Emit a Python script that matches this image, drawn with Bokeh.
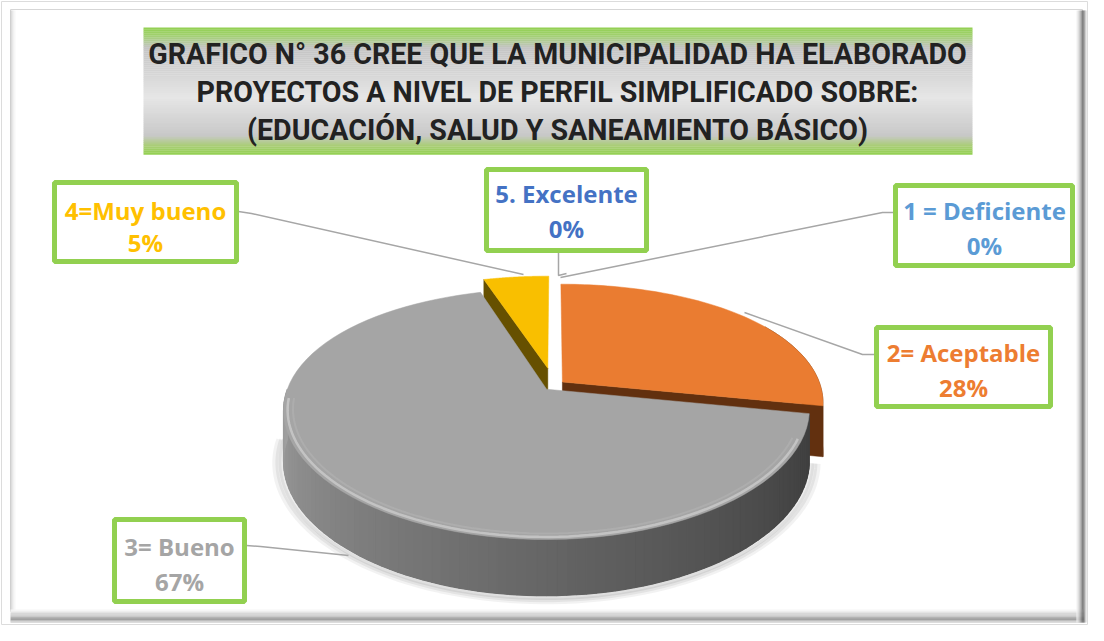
import math
from bokeh.plotting import figure
from bokeh.models import Range1d
from bokeh.core.properties import value
from bokeh.embed import file_html
from bokeh.resources import INLINE

# ---------------- data ----------------
categories = ["1 = Deficiente", "2= Aceptable", "3= Bueno", "4=Muy bueno", "5. Excelente"]
percents = [0, 28, 67, 5, 0]
slice_colors = ["#5b9bd5", "#ea7c31", "#a5a5a5", "#f9bf00", "#4472c4"]
face_colors = ["#2e5b85", "#62300f", "#6e6e6e", "#665000", "#22406f"]
label_colors = ["#5b9bd5", "#ed7d31", "#a5a5a5", "#ffc000", "#4472c4"]
explode = [0.0, 0.045, 0.04, 0.145, 0.0]
title_lines = [
    "GRAFICO N° 36 CREE QUE LA MUNICIPALIDAD HA ELABORADO",
    "PROYECTOS A NIVEL DE PERFIL SIMPLIFICADO SOBRE:",
    "(EDUCACIÓN, SALUD Y SANEAMIENTO BÁSICO)",
]

# ---------------- layout ----------------
W, H = 1088, 625
p = figure(width=W, height=H, x_range=Range1d(0, W), y_range=Range1d(H, 0),
           output_backend="svg", toolbar_location=None, min_border=0,
           x_axis_location=None, y_axis_location=None)
p.grid.visible = False
p.outline_line_color = None
p.background_fill_color = "white"
p.border_fill_color = "white"

# outer frame
p.quad(left=[1], right=[1087], top=[1], bottom=[624], fill_color=None,
       line_color="#dcdcdc", line_width=1)
p.quad(left=[10], right=[1082], top=[9], bottom=[611], fill_color="white",
       line_color="#d6d6d6", line_width=1)
left_band = ["#c8c8c8", "#d8d8d8", "#e6e6e6", "#f0f0f0", "#f8f8f8"]
for i, c in enumerate(left_band):
    p.quad(left=[10 + i], right=[11 + i], top=[10], bottom=[610], fill_color=c, line_color=None)
bottom_band = ["#f6f6f6", "#eeeeee", "#e4e4e4", "#d8d8d8", "#cccccc", "#bfbfbf",
               "#b3b3b3", "#a8a8a8", "#a0a0a0", "#b0b0b0", "#d0d0d0"]
for i, c in enumerate(bottom_band):
    p.quad(left=[10], right=[1084], top=[609 + i * 1.2], bottom=[610.2 + i * 1.2],
           fill_color=c, line_color=None)
right_band = ["#f2f2f2", "#e2e2e2", "#cfcfcf", "#b5b5b5", "#959595", "#777777",
              "#5f5f5f", "#6f6f6f", "#9a9a9a", "#d0d0d0"]
for i, c in enumerate(right_band):
    p.quad(left=[1076 + i], right=[1077 + i], top=[10], bottom=[622], fill_color=c, line_color=None)

# title box with gradient bands
TL, TR, TT, TB = 143, 972, 27, 154
stops = [(0.0, (146, 208, 80)), (0.06, (160, 208, 110)), (0.16, (196, 196, 196)),
         (0.55, (230, 230, 230)), (0.85, (200, 200, 200)), (0.93, (170, 205, 120)),
         (1.0, (146, 208, 80))]


def grad(t):
    for (t0, c0), (t1, c1) in zip(stops[:-1], stops[1:]):
        if t0 <= t <= t1:
            f = (t - t0) / (t1 - t0) if t1 > t0 else 0
            return "#%02x%02x%02x" % tuple(int(round(a + (b - a) * f)) for a, b in zip(c0, c1))
    return "#92d050"


nb = 64
bh = (TB - TT) / nb
p.quad(left=[TL] * nb, right=[TR] * nb,
       top=[TT + i * bh for i in range(nb)], bottom=[TT + (i + 1) * bh + 0.3 for i in range(nb)],
       fill_color=[grad((i + 0.5) / nb) for i in range(nb)], line_color=None)
p.text(x=[557] * 3, y=[53, 91, 129], text=title_lines, text_align="center",
       text_baseline="middle", text_font=value("Roboto"),
       text_font_style="bold", text_font_size=value("28.6px"), text_color="#222222")

# ---------------- 3D pie ----------------
CX, CY, RX, RY, K, KX = 553, 385, 258, 124, 0.2, 0.17
DEPTH, KD = 50, 0.12


def pt(theta, r, off, down=False):
    t = math.radians(theta)
    u = r * math.sin(t) + off[0]
    w = -r * math.cos(t) + off[1]
    x = CX + RX * u * (1 + KX * w)
    y = CY + RY * w + RY * K * w * w
    if down:
        y += DEPTH * (1 + KD * w)
    return x, y


angles = []
acc = 0.0
for v in percents:
    a0 = acc
    acc += v * 3.6
    angles.append((a0, acc))


def offset(i):
    a0, a1 = angles[i]
    m = math.radians((a0 + a1) / 2)
    return (explode[i] * math.sin(m), -explode[i] * math.cos(m))


def arc(a0, a1, off, r=1.0, down=False, n=80):
    pts = [pt(a0 + (a1 - a0) * k / n, r, off, down) for k in range(n + 1)]
    return [q[0] for q in pts], [q[1] for q in pts]


def top_poly(i):
    a0, a1 = angles[i]
    off = offset(i)
    ax, ay = pt(0, 0, off)
    xs, ys = arc(a0, a1, off)
    return [ax] + xs + [ax], [ay] + ys + [ay]


def face_poly(i, ang):
    off = offset(i)
    at = pt(0, 0, off)
    ab = pt(0, 0, off, True)
    rt = pt(ang, 1, off)
    rb = pt(ang, 1, off, True)
    return [at[0], rt[0], rb[0], ab[0]], [at[1], rt[1], rb[1], ab[1]]


def wall_polys(i, a0, a1, n=60):
    off = offset(i)
    xs_l, ys_l, ts = [], [], []
    for k in range(n):
        b0 = a0 + (a1 - a0) * k / n
        b1 = a0 + (a1 - a0) * (k + 1) / n
        p0, p1 = pt(b0, 1, off), pt(b1, 1, off)
        q0, q1 = pt(b0, 1, off, True), pt(b1, 1, off, True)
        xs_l.append([p0[0], p1[0], q1[0], q0[0]])
        ys_l.append([p0[1], p1[1], q1[1], q0[1]])
        ts.append((b0 + b1) / 2)
    return xs_l, ys_l, ts


def wall_outline(i, a0, a1):
    off = offset(i)
    xt, yt = arc(a0, a1, off)
    xb, yb = arc(a0, a1, off, down=True)
    return xt + xb[::-1], yt + yb[::-1]


# soft shadow under pie
for g, a in [(8, 0.05), (5, 0.06), (2, 0.07)]:
    xs, ys = arc(100, 270, offset(2), r=1.0 + g / 260.0, down=True)
    p.line(xs, ys, line_color="#000000", line_alpha=a, line_width=6)

# yellow (4=Muy bueno) - back slice
iy = 3
fx, fy = face_poly(iy, angles[iy][0])
p.patch(fx, fy, fill_color=face_colors[iy], line_color=face_colors[iy], line_width=0.5)
tx, ty = top_poly(iy)
p.patch(tx, ty, fill_color=slice_colors[iy], line_color=slice_colors[iy], line_width=0.5)

# orange (2= Aceptable)
io = 1
ox, oy = wall_outline(io, 60, angles[io][1])
p.patch(ox, oy, fill_color="#6a3714", line_color="#6a3714", line_width=0.6)
fx, fy = face_poly(io, angles[io][1])
p.patch(fx, fy, fill_color=face_colors[io], line_color=face_colors[io], line_width=0.5)
tx, ty = top_poly(io)
p.patch(tx, ty, fill_color=slice_colors[io], line_color=slice_colors[io], line_width=0.5)

# gray (3= Bueno) - front slice
ig = 2
a_start = angles[ig][0]
ox, oy = wall_outline(ig, a_start, 270)
p.patch(ox, oy, fill_color="#6e6e6e", line_color=None)
wx, wy, ts = wall_polys(ig, a_start, 270, 90)


def wall_color(t):
    f = (t - a_start) / (270 - a_start)  # 0 at right, 1 at left
    dark, light = 62, 160
    v = int(round(dark + (light - dark) * (f ** 1.2)))
    return "#%02x%02x%02x" % (v, v, v)


wc = [wall_color(t) for t in ts]
p.patches(wx, wy, fill_color=wc, line_color=wc, line_width=1.2)
tx, ty = top_poly(ig)
p.patch(tx, ty, fill_color=slice_colors[ig], line_color=slice_colors[ig], line_width=0.5)
# bevel highlight along the front rim
hx, hy = arc(112, 266, offset(ig), r=0.985)
p.line(hx, hy, line_color="#c6c6c6", line_width=2.5, line_alpha=0.9)
hx, hy = arc(112, 266, offset(ig), r=0.965)
p.line(hx, hy, line_color="#b2b2b2", line_width=2, line_alpha=0.6)

# ---------------- labels ----------------
# box (left, right, top, bottom) and text line centers for each category
boxes = {
    0: (895, 1072, 185, 265, 984, 210, 245),
    1: (876, 1050, 327, 406, 963, 352, 387),
    2: (114, 244, 519, 601, 179, 546, 581),
    3: (54, 236, 182, 261, 145, 210, 242),
    4: (486, 646, 169, 250, 566, 193, 228),
}
leaders = {
    0: ([893, 882, 560], [212, 212, 277]),
    1: ([874, 862, 744], [354, 354, 312]),
    2: ([246, 260, 348], [545, 546, 555]),
    3: ([238, 251, 523], [211, 213, 274]),
    4: ([558, 558, 566], [252, 275, 273]),
}
p.multi_line([leaders[i][0] for i in range(5)], [leaders[i][1] for i in range(5)],
             line_color="#a6a6a6", line_width=1.5)

for i in range(5):
    l, r, t, b, cx, y1, y2 = boxes[i]
    p.quad(left=[l], right=[r], top=[t], bottom=[b], fill_color="white",
           line_color="#92d050", line_width=5)
    p.text(x=[cx, cx], y=[y1, y2], text=[categories[i], "%d%%" % percents[i]],
           text_align="center", text_baseline="middle", text_font=value("Open Sans"),
           text_font_style="bold", text_font_size=value("24px"), text_color=label_colors[i])

open("out.html", "w").write(file_html(p, INLINE))
